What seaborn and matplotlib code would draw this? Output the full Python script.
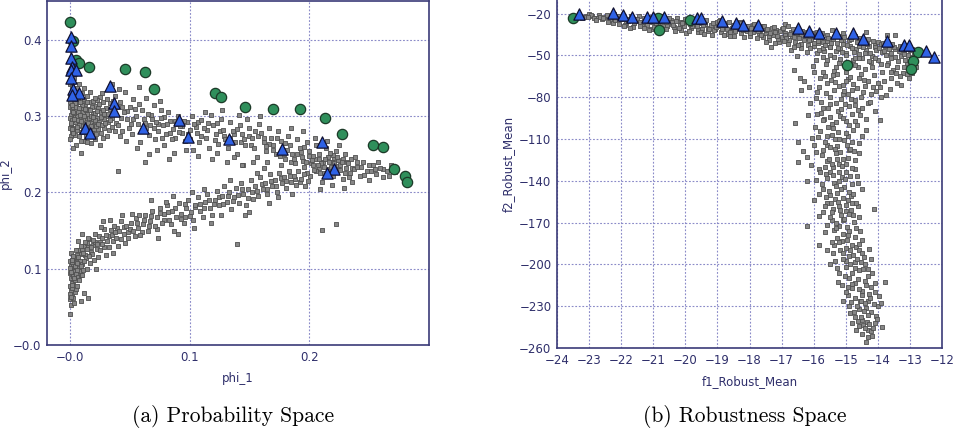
import matplotlib
matplotlib.use("Agg")
import matplotlib.pyplot as plt
import seaborn as sns
import pandas as pd
from matplotlib.ticker import MultipleLocator, FixedLocator, FixedFormatter

# ---------------- Panel (a): Probability Space ----------------
phi_green_1 = [0.000, 0.003, 0.005, 0.008, 0.016, 0.046, 0.063, 0.070, 0.121, 0.126,
               0.146, 0.170, 0.192, 0.213, 0.227, 0.253, 0.262, 0.271, 0.280, 0.282]
phi_green_2 = [0.424, 0.398, 0.374, 0.370, 0.364, 0.362, 0.358, 0.335, 0.330, 0.325,
               0.312, 0.309, 0.309, 0.297, 0.276, 0.262, 0.259, 0.231, 0.222, 0.214]

phi_blue_1 = [0.001, 0.001, 0.001, 0.002, 0.001, 0.005, 0.001, 0.003, 0.008, 0.002,
              0.034, 0.037, 0.037, 0.013, 0.017, 0.061, 0.091, 0.099, 0.133, 0.177,
              0.211, 0.221, 0.215]
phi_blue_2 = [0.404, 0.392, 0.376, 0.365, 0.360, 0.361, 0.350, 0.336, 0.330, 0.328,
              0.340, 0.317, 0.307, 0.284, 0.278, 0.284, 0.295, 0.273, 0.270, 0.257,
              0.266, 0.231, 0.225]

phi_cloud = [
    (0.000,0.355),(0.001,0.348),(0.000,0.342),(0.002,0.338),(0.001,0.331),(0.000,0.326),
    (0.003,0.322),(0.001,0.317),(0.000,0.312),(0.002,0.308),(0.001,0.302),(0.000,0.297),
    (0.003,0.293),(0.001,0.288),(0.000,0.284),(0.002,0.279),(0.001,0.274),(0.000,0.270),
    (0.003,0.345),(0.004,0.333),(0.003,0.312),(0.004,0.300),(0.003,0.285),
    (0.006,0.335),(0.008,0.327),(0.010,0.331),(0.012,0.322),(0.007,0.318),(0.009,0.311),
    (0.011,0.305),(0.006,0.300),(0.008,0.294),(0.013,0.297),(0.015,0.310),(0.017,0.318),
    (0.014,0.326),(0.019,0.304),(0.021,0.313),(0.023,0.298),(0.018,0.292),(0.010,0.287),
    (0.006,0.282),(0.012,0.279),(0.016,0.285),(0.020,0.289),(0.024,0.283),(0.026,0.306),
    (0.028,0.318),(0.025,0.325),(0.030,0.300),(0.032,0.292),(0.029,0.285),(0.034,0.310),
    (0.022,0.276),(0.008,0.274),(0.027,0.330),(0.031,0.322),(0.035,0.298),(0.005,0.312),
    (0.007,0.306),(0.011,0.296),(0.013,0.316),(0.016,0.298),(0.019,0.296),(0.021,0.295),
    (0.004,0.292),(0.005,0.262),(0.012,0.268),(0.018,0.265),(0.003,0.258),(0.025,0.262),
    (0.009,0.252),(0.040,0.228),(0.063,0.240),
    (0.0015,0.352),(0.0025,0.327),(0.0005,0.3185),(0.0035,0.304),(0.0015,0.2955),(0.0025,0.281),
    (0.0045,0.317),(0.0065,0.3225),(0.0085,0.3015),(0.0105,0.3145),(0.0125,0.2895),(0.0145,0.3035),
    (0.0165,0.2765),(0.0185,0.3125),(0.0205,0.2835),(0.0225,0.3215),(0.0245,0.2925),(0.0265,0.2785),
    (0.0285,0.2965),(0.0305,0.3105),(0.0325,0.2815),(0.0075,0.2885),(0.0095,0.2795),(0.0135,0.3085),
    (0.0155,0.2915),(0.0175,0.3005),(0.0195,0.3195),(0.0215,0.3045),(0.0235,0.3105),(0.0115,0.3375),
    (0.0055,0.3285),(0.0165,0.3315),(0.0335,0.3175),(0.0365,0.3055),(0.0385,0.2915),(0.0395,0.3115),
    (0.0355,0.2855),(0.0275,0.2715),(0.0135,0.2735),(0.0045,0.2755),
    (0.0008,0.3235),(0.0018,0.3145),(0.0028,0.3055),(0.0038,0.2965),(0.0008,0.2915),(0.0018,0.2835),
    (0.0028,0.2775),(0.0058,0.2855),(0.0068,0.2945),(0.0078,0.3105),(0.0088,0.3185),(0.0098,0.2935),
    (0.0108,0.2815),(0.0118,0.3005),(0.0128,0.3095),(0.0138,0.2845),(0.0148,0.3185),(0.0158,0.2805),
    (0.0168,0.3085),(0.0178,0.2865),(0.0188,0.2785),(0.0198,0.2995),(0.0208,0.3235),(0.0218,0.2875),
    (0.0228,0.3065),(0.0238,0.2895),(0.0248,0.3165),(0.0258,0.2985),(0.0268,0.2885),(0.0278,0.3085),
    (0.0288,0.3025),(0.0298,0.2905),(0.0318,0.3025),(0.0338,0.2945),(0.0358,0.3205),(0.0378,0.2805),
    (0.0058,0.3375),(0.0078,0.3425),(0.0038,0.3495),(0.0098,0.2675),(0.0148,0.2655),(0.0208,0.2695),
    (0.0308,0.2735),(0.0418,0.2735),(0.0478,0.3065),(0.0528,0.2965),(0.0578,0.3155),(0.0628,0.2905),
    (0.0688,0.2965),(0.0738,0.2895),(0.0788,0.2985),(0.0838,0.2775),(0.0878,0.2935),(0.0938,0.2865),
    (0.0988,0.2765),(0.1068,0.2925),(0.1148,0.2825),(0.1228,0.2915),(0.1288,0.2735),(0.1368,0.2765),
    (0.1428,0.2655),(0.1498,0.2735),(0.1548,0.2805),(0.1618,0.2715),(0.1668,0.2635),(0.1728,0.2715),
    (0.1788,0.2505),(0.1848,0.2395),(0.1898,0.2505),(0.1948,0.2415),(0.1998,0.2475),(0.2018,0.2385),
    (0.2048,0.2445),(0.2078,0.2315),(0.2118,0.2405),(0.2158,0.2305),(0.2188,0.2405),(0.2208,0.2455),
    (0.2238,0.2345),(0.2278,0.2445),(0.2318,0.2405),(0.2358,0.2325),(0.2398,0.2405),(0.2458,0.2235),
    (0.2498,0.2355),(0.2548,0.2305),(0.2618,0.2305),(0.2668,0.2215),(0.2718,0.2265),
    (0.038,0.327),(0.042,0.318),(0.045,0.305),(0.048,0.296),(0.040,0.288),(0.044,0.280),
    (0.050,0.312),(0.053,0.322),(0.055,0.300),(0.057,0.290),(0.052,0.276),(0.060,0.308),
    (0.062,0.296),(0.064,0.285),(0.066,0.275),(0.059,0.266),(0.068,0.302),(0.070,0.315),
    (0.072,0.292),(0.074,0.281),(0.071,0.270),(0.076,0.298),(0.078,0.288),(0.080,0.276),
    (0.082,0.306),(0.084,0.294),(0.086,0.283),(0.079,0.262),(0.088,0.271),(0.090,0.300),
    (0.092,0.287),(0.094,0.278),(0.096,0.267),(0.098,0.292),(0.100,0.282),(0.047,0.268),
    (0.056,0.258),(0.073,0.255),(0.087,0.252),(0.064,0.324),(0.075,0.320),(0.046,0.332),
    (0.058,0.338),(0.035,0.342),(0.041,0.336),(0.066,0.250),(0.083,0.244),(0.097,0.255),
    (0.051,0.290),(0.043,0.298),(0.067,0.288),(0.077,0.272),(0.089,0.290),
    (0.0435,0.3125),(0.0495,0.2845),(0.0545,0.3095),(0.0615,0.2815),(0.0655,0.3035),(0.0705,0.2845),
    (0.0765,0.3085),(0.0815,0.2895),(0.0855,0.2695),(0.0915,0.2795),(0.0955,0.2935),(0.1005,0.2705),
    (0.1055,0.2855),(0.1095,0.2745),(0.1155,0.2905),(0.1215,0.2685),(0.1255,0.2805),(0.1335,0.2715),
    (0.1395,0.2835),(0.1455,0.2695),(0.1515,0.2625),(0.1575,0.2745),(0.1635,0.2605),(0.1695,0.2555),
    (0.1755,0.2475),(0.1815,0.2555),(0.1875,0.2445),(0.1935,0.2525),(0.1975,0.2405),(0.2035,0.2355),
    (0.2085,0.2445),(0.2125,0.2335),(0.2165,0.2395),(0.2215,0.2305),(0.2255,0.2365),(0.2295,0.2255),
    (0.2375,0.2305),(0.2435,0.2335),(0.2515,0.2285),(0.2575,0.2405),(0.2195,0.2485),(0.2145,0.2225),
    (0.2055,0.2285),(0.1955,0.2595),(0.1795,0.2645),
    (0.102,0.300),(0.104,0.290),(0.106,0.278),(0.108,0.266),(0.110,0.295),(0.112,0.284),
    (0.114,0.272),(0.116,0.258),(0.118,0.302),(0.120,0.288),(0.122,0.276),(0.124,0.264),
    (0.126,0.296),(0.128,0.282),(0.130,0.270),(0.132,0.258),(0.134,0.292),(0.136,0.280),
    (0.138,0.266),(0.140,0.250),(0.142,0.288),(0.144,0.276),(0.146,0.262),(0.148,0.296),
    (0.150,0.284),(0.152,0.272),(0.154,0.258),(0.156,0.246),(0.158,0.290),(0.160,0.278),
    (0.162,0.266),(0.164,0.254),(0.166,0.284),(0.168,0.272),(0.107,0.248),(0.119,0.244),
    (0.131,0.240),(0.145,0.236),(0.113,0.306),(0.127,0.308),(0.141,0.302),(0.159,0.300),
    (0.103,0.256),(0.123,0.252),(0.137,0.246),(0.153,0.240),(0.165,0.240),
    (0.170,0.262),(0.172,0.250),(0.174,0.280),(0.176,0.268),(0.178,0.256),(0.180,0.244),
    (0.182,0.274),(0.184,0.262),(0.186,0.250),(0.188,0.238),(0.190,0.270),(0.192,0.258),
    (0.194,0.246),(0.196,0.234),(0.198,0.266),(0.200,0.254),(0.202,0.242),(0.204,0.230),
    (0.206,0.262),(0.208,0.250),(0.210,0.238),(0.212,0.226),(0.214,0.258),(0.216,0.246),
    (0.218,0.234),(0.220,0.222),(0.222,0.254),(0.224,0.242),(0.226,0.230),(0.228,0.218),
    (0.230,0.250),(0.232,0.238),(0.234,0.226),(0.236,0.214),(0.238,0.246),(0.240,0.234),
    (0.242,0.222),(0.245,0.240),(0.248,0.228),(0.250,0.216),(0.253,0.236),(0.256,0.224),
    (0.259,0.232),(0.262,0.220),(0.265,0.228),(0.268,0.236),(0.205,0.272),(0.215,0.268),
    (0.195,0.280),(0.185,0.284),(0.225,0.262),(0.201,0.222),(0.211,0.214),(0.219,0.210),
    (0.229,0.206),(0.199,0.215),(0.209,0.205),(0.203,0.248),(0.207,0.236),(0.213,0.244),
    (0.217,0.252),(0.221,0.238),(0.223,0.246),(0.227,0.240),(0.231,0.232),(0.235,0.244),
    (0.209,0.226),(0.219,0.228),(0.233,0.220),(0.140,0.133),(0.211,0.151),(0.222,0.159),
    (0.000,0.040),(0.001,0.052),(0.000,0.060),(0.002,0.066),(0.001,0.072),(0.000,0.078),
    (0.003,0.083),(0.001,0.088),(0.000,0.094),(0.002,0.099),(0.001,0.104),(0.000,0.110),
    (0.003,0.114),(0.001,0.120),(0.004,0.070),(0.004,0.092),(0.003,0.106),(0.002,0.075),
    (0.003,0.062),
    (0.0005,0.0665),(0.0015,0.0815),(0.0025,0.0905),(0.0005,0.1015),(0.0035,0.0975),(0.0015,0.1085),
    (0.0045,0.0855),(0.0055,0.0935),(0.0065,0.0885),(0.0075,0.1005),(0.0045,0.1155),(0.0085,0.1105),
    (0.0025,0.1165),(0.0095,0.1195),(0.0105,0.1255),(0.0125,0.1175),(0.0055,0.0735),(0.0035,0.0555),
    (0.0105,0.1065),(0.0135,0.1145),(0.0155,0.1295),(0.0175,0.1225),(0.0195,0.1305),(0.0225,0.1255),
    (0.0255,0.1345),(0.0285,0.1285),(0.0325,0.1425),(0.0365,0.1365),(0.0425,0.1395),(0.0485,0.1485),
    (0.0545,0.1425),(0.0605,0.1475),(0.0665,0.1555),(0.0725,0.1515),(0.0785,0.1645),(0.0845,0.1585),
    (0.0925,0.1655),(0.1005,0.1695),(0.1085,0.1855),(0.1165,0.1905),(0.1245,0.1935),(0.1325,0.1955),
    (0.1405,0.1965),(0.1485,0.1925),(0.1565,0.2015),(0.1645,0.2045),(0.1725,0.2085),(0.1805,0.2155),
    (0.1885,0.2175),(0.1965,0.2085),
    (0.0012,0.0635),(0.0022,0.0785),(0.0032,0.0875),(0.0012,0.0955),(0.0042,0.1035),(0.0022,0.1115),
    (0.0052,0.1085),(0.0062,0.1175),(0.0072,0.1245),(0.0082,0.0965),(0.0092,0.0915),(0.0112,0.0985),
    (0.0122,0.1295),(0.0142,0.1335),(0.0162,0.1395),(0.0182,0.1195),(0.0212,0.1355),(0.0242,0.1425),
    (0.0272,0.1325),(0.0302,0.1445),(0.0342,0.1505),(0.0392,0.1535),(0.0452,0.1545),(0.0502,0.1515),
    (0.0562,0.1595),(0.0622,0.1635),(0.0682,0.1695),(0.0752,0.1735),(0.0822,0.1745),(0.0882,0.1795),
    (0.0962,0.1845),(0.1042,0.1805),(0.1122,0.1795),(0.1202,0.1845),(0.1282,0.1855),(0.1362,0.1885),
    (0.1442,0.2045),(0.1522,0.2005),(0.1602,0.2105),(0.1682,0.2155),(0.1762,0.2185),(0.1842,0.2215),
    (0.1922,0.2135),(0.1982,0.2255),
    (0.006,0.078),(0.008,0.085),(0.010,0.092),(0.006,0.098),(0.009,0.104),(0.012,0.110),
    (0.007,0.115),(0.011,0.120),(0.014,0.126),(0.009,0.130),(0.013,0.135),(0.016,0.117),
    (0.018,0.128),(0.015,0.140),(0.019,0.138),(0.005,0.125),(0.007,0.136),(0.010,0.145),
    (0.014,0.100),(0.017,0.108),(0.012,0.068),(0.015,0.062),(0.009,0.058),(0.020,0.112),
    (0.006,0.108),
    (0.021,0.146),(0.023,0.132),(0.025,0.124),(0.027,0.140),(0.029,0.152),(0.031,0.136),
    (0.033,0.128),(0.035,0.144),(0.037,0.156),(0.039,0.140),(0.041,0.150),(0.043,0.162),
    (0.045,0.146),(0.047,0.156),(0.049,0.140),(0.051,0.160),(0.053,0.150),(0.055,0.166),
    (0.057,0.154),(0.059,0.144),(0.024,0.116),(0.030,0.118),(0.022,0.100),(0.028,0.162),
    (0.034,0.164),(0.040,0.130),(0.046,0.134),(0.052,0.172),(0.058,0.170),(0.044,0.170),
    (0.036,0.120),(0.026,0.155),(0.038,0.148),
    (0.061,0.158),(0.063,0.170),(0.065,0.150),(0.067,0.162),(0.069,0.176),(0.071,0.156),
    (0.073,0.168),(0.075,0.180),(0.077,0.160),(0.079,0.172),(0.081,0.184),(0.083,0.164),
    (0.085,0.176),(0.087,0.150),(0.089,0.168),(0.091,0.186),(0.093,0.172),(0.095,0.160),
    (0.097,0.180),(0.099,0.190),(0.101,0.174),(0.103,0.164),(0.105,0.184),(0.107,0.194),
    (0.109,0.176),(0.111,0.168),(0.113,0.188),(0.115,0.198),(0.117,0.180),(0.119,0.170),
    (0.074,0.140),(0.068,0.190),(0.086,0.196),(0.102,0.200),(0.112,0.204),(0.090,0.146),
    (0.104,0.154),(0.118,0.160),(0.080,0.188),(0.096,0.168),
    (0.121,0.190),(0.123,0.202),(0.125,0.184),(0.127,0.196),(0.129,0.208),(0.131,0.188),
    (0.133,0.200),(0.135,0.178),(0.137,0.194),(0.139,0.206),(0.141,0.186),(0.143,0.212),
    (0.145,0.198),(0.147,0.184),(0.149,0.204),(0.151,0.216),(0.153,0.192),(0.155,0.208),
    (0.157,0.196),(0.159,0.220),(0.161,0.204),(0.163,0.212),(0.165,0.198),(0.167,0.224),
    (0.169,0.208),(0.171,0.216),(0.173,0.200),(0.175,0.226),(0.177,0.212),(0.179,0.220),
    (0.181,0.206),(0.183,0.228),(0.185,0.214),(0.187,0.222),(0.189,0.210),(0.191,0.228),
    (0.193,0.218),(0.126,0.170),(0.146,0.170),(0.166,0.186),(0.186,0.198),(0.134,0.216),
    (0.156,0.226),(0.176,0.236),(0.196,0.224),(0.174,0.194),(0.144,0.236),(0.162,0.232),
    (0.150,0.174),
]

# ---------------- Panel (b): Robustness Space ----------------
rob_green_1 = [-23.50, -20.82, -20.86, -19.85, -14.95, -12.74, -12.89, -12.97]
rob_green_2 = [-22.9, -31.7, -23.4, -24.5, -56.8, -47.8, -54.0, -59.7]

rob_blue_1 = [-23.30, -22.25, -21.93, -21.65, -21.20, -21.00, -20.66, -19.65, -19.52,
              -18.87, -18.42, -18.19, -17.74, -16.50, -16.15, -15.83, -15.31, -14.76,
              -14.47, -13.72, -13.20, -13.04, -12.50, -12.24]
rob_blue_2 = [-20.5, -19.8, -21.0, -22.2, -22.2, -22.2, -22.2, -23.4, -23.4,
              -25.2, -27.0, -28.1, -28.1, -30.0, -32.4, -34.1, -34.1, -34.1,
              -38.4, -39.6, -42.5, -42.5, -46.6, -51.4]

rob_cloud = [
    (-23.3,-21),(-23.1,-21.5),(-22.9,-22),(-22.7,-21),(-22.5,-22.5),(-22.3,-23),(-22.1,-22),
    (-22.0,-24),(-22.4,-21.5),(-22.8,-23),(-23.0,-20.5),(-22.6,-24),
    (-23.15,-22.1),(-22.95,-21.3),(-22.85,-23.4),(-22.65,-22.2),(-22.45,-20.9),(-22.35,-24.6),
    (-22.15,-23.3),(-21.95,-21.6),(-21.85,-26.4),(-21.75,-24.1),(-21.65,-22.8),(-21.55,-25.5),
    (-21.45,-21.9),(-21.35,-27.6),(-21.25,-24.7),(-21.15,-22.4),(-21.05,-26.2),(-20.95,-23.7),
    (-20.85,-28.3),(-20.75,-25.1),(-20.65,-22.9),(-20.55,-27.4),(-20.45,-24.6),(-20.35,-29.5),
    (-20.25,-23.4),(-20.15,-26.1),(-20.05,-28.8),(-20.12,-31.6),(-21.62,-29.7),(-22.25,-26.8),
    (-21.08,-30.9),
    (-23.22,-23.4),(-23.04,-22.6),(-22.78,-24.8),(-22.56,-23.1),(-22.42,-25.7),(-22.18,-24.9),
    (-22.06,-27.3),(-21.88,-27.8),(-21.72,-30.2),(-21.58,-23.6),(-21.42,-28.9),(-21.28,-25.8),
    (-21.12,-31.7),(-20.98,-29.4),(-20.88,-25.6),(-20.72,-31.3),(-20.58,-29.1),(-20.42,-26.2),
    (-20.32,-32.4),(-20.18,-28.3),(-20.08,-25.7),(-19.98,-33.6),(-19.82,-30.6),(-19.72,-27.4),
    (-19.62,-33.1),(-19.48,-30.9),(-19.38,-27.5),(-19.28,-32.6),(-19.18,-35.4),(-19.08,-31.2),
    (-18.98,-27.6),(-18.88,-33.4),(-18.78,-29.8),(-18.68,-34.7),(-18.58,-31.9),(-18.48,-35.8),
    (-18.38,-30.6),(-18.28,-34.2),(-18.18,-37.1),(-18.08,-32.3),(-17.98,-35.9),(-17.88,-33.1),
    (-17.78,-37.8),(-17.68,-31.4),(-17.58,-36.6),(-17.48,-34.2),(-17.38,-38.9),(-17.28,-35.6),
    (-17.18,-31.8),(-17.08,-40.2),(-16.98,-36.8),(-16.88,-33.6),(-16.78,-39.1),(-16.68,-35.9),
    (-16.58,-40.7),(-16.48,-34.4),(-16.38,-41.5),(-16.28,-37.4),(-16.18,-42.3),(-16.08,-38.6),
    (-15.98,-43.5),(-15.88,-41.2),(-15.78,-36.7),(-15.68,-46.8),(-15.58,-39.8),(-15.48,-43.6),
    (-15.38,-51.4),(-15.28,-41.1),(-15.18,-45.3),(-15.08,-38.8),(-14.98,-47.9),(-14.88,-43.1),
    (-14.78,-53.2),(-14.68,-45.6),(-14.58,-39.6),(-14.48,-51.6),(-14.38,-46.1),(-14.28,-43.5),
    (-14.18,-50.4),(-14.08,-42.2),(-13.98,-53.1),(-13.88,-47.3),(-13.78,-43.5),(-13.68,-55.6),
    (-13.58,-48.4),(-13.48,-45.1),(-13.38,-53.9),(-13.28,-50.6),(-13.18,-46.3),(-13.08,-56.2),
    (-12.98,-51.4),(-12.88,-48.2),(-12.82,-58.5),(-13.52,-60.4),(-13.22,-62.7),(-14.12,-63.8),
    (-14.62,-58.4),(-15.22,-55.7),(-15.72,-50.8),(-16.22,-47.6),(-16.72,-45.9),(-17.32,-43.6),
    (-13.02,-66.4),(-13.62,-74.1),(-14.32,-68.2),(-16.02,-57.3),(-16.52,-50.2),(-13.76,-78.6),
    (-14.06,-75.2),(-16.62,-60.5),(-16.42,-66.1),(-13.48,-35.4),(-14.38,-33.2),(-15.42,-31.6),
    (-16.88,-27.4),(-18.92,-24.2),(-20.78,-21.6),(-22.22,-20.6),
    (-21.9,-23),(-21.8,-25),(-21.7,-22),(-21.6,-27),(-21.5,-24),(-21.4,-26),(-21.3,-23),
    (-21.2,-28),(-21.1,-25),(-21.0,-22.5),(-20.9,-27),(-20.8,-24),(-20.7,-29),(-20.6,-26),
    (-20.5,-23),(-20.4,-28),(-20.3,-25),(-20.2,-30),(-20.1,-27),(-20.0,-24),(-21.9,-29),
    (-21.3,-30),(-20.6,-31),
    (-19.9,-26),(-19.8,-29),(-19.7,-24.5),(-19.6,-31),(-19.5,-27),(-19.4,-25),(-19.3,-30),
    (-19.2,-28),(-19.1,-32),(-19.0,-26),(-18.9,-29),(-18.8,-27),(-18.7,-31),(-18.6,-33),
    (-18.5,-28),(-18.4,-30),(-18.3,-26),(-18.2,-32),(-18.1,-29),(-18.0,-34),(-19.5,-33),
    (-18.8,-35),
    (-19.95,-25.2),(-19.85,-27.6),(-19.75,-23.5),(-19.65,-29.2),(-19.55,-25.8),(-19.45,-28.1),
    (-19.35,-24.6),(-19.25,-30.8),(-19.15,-26.7),(-19.05,-29.4),(-18.95,-25.3),(-18.85,-31.2),
    (-18.75,-27.9),(-18.65,-25.8),(-18.55,-30.1),(-18.45,-32.7),(-18.35,-28.2),(-18.25,-26.4),
    (-18.15,-31.1),(-18.05,-28.6),(-19.42,-34.8),(-18.62,-36.2),(-19.88,-32.5),
    (-17.9,-28),(-17.8,-31),(-17.7,-34),(-17.6,-29),(-17.5,-32),(-17.4,-36),(-17.3,-30),
    (-17.2,-33),(-17.1,-38),(-17.0,-31),(-16.9,-35),(-16.8,-29),(-16.7,-33),(-16.6,-37),
    (-16.5,-31),(-16.4,-35),(-16.3,-39),(-16.2,-33),(-16.1,-36),(-16.0,-41),(-17.5,-40),
    (-16.8,-42),(-16.4,-45),(-16.6,-44),
    (-17.95,-30.4),(-17.85,-27.2),(-17.75,-32.6),(-17.65,-35.1),(-17.55,-28.9),(-17.45,-31.3),
    (-17.35,-33.8),(-17.25,-29.6),(-17.15,-35.7),(-17.05,-32.2),(-16.95,-30.5),(-16.85,-37.4),
    (-16.75,-34.6),(-16.65,-31.2),(-16.55,-33.9),(-16.45,-37.8),(-16.35,-32.1),(-16.25,-35.4),
    (-16.15,-38.7),(-16.05,-34.2),(-17.22,-41.3),(-16.48,-42.6),(-16.92,-39.4),(-16.12,-44.8),
    (-15.9,-33),(-15.8,-37),(-15.7,-40),(-15.6,-35),(-15.5,-44),(-15.4,-38),(-15.3,-47),
    (-15.2,-36),(-15.1,-42),(-15.0,-50),(-14.9,-39),(-14.8,-45),(-14.7,-36),(-14.6,-52),
    (-14.5,-41),(-14.4,-48),(-14.3,-38),(-14.2,-55),(-14.1,-44),(-14.0,-40),(-15.9,-48),
    (-15.6,-53),(-15.3,-58),(-15.0,-62),(-14.7,-57),(-14.4,-60),(-14.1,-52),(-15.7,-45),
    (-15.1,-34),(-14.6,-43),
    (-15.95,-36.1),(-15.85,-39.4),(-15.75,-34.2),(-15.65,-42.3),(-15.55,-37.6),(-15.45,-40.9),
    (-15.35,-35.7),(-15.25,-44.6),(-15.15,-39.1),(-15.05,-36.8),(-14.95,-42.7),(-14.85,-38.2),
    (-14.75,-47.5),(-14.65,-40.3),(-14.55,-37.4),(-14.45,-44.1),(-14.35,-41.6),(-14.25,-48.3),
    (-14.15,-39.5),(-14.05,-46.2),(-15.82,-46.3),(-15.48,-49.7),(-15.18,-52.6),(-14.88,-55.4),
    (-14.58,-49.2),(-14.28,-53.8),(-15.62,-56.1),(-15.12,-47.6),(-14.72,-51.9),(-14.18,-58.6),
    (-15.92,-53.4),(-15.38,-61.2),(-14.52,-63.5),(-14.92,-66.7),
    (-13.9,-42),(-13.8,-47),(-13.7,-40),(-13.6,-52),(-13.5,-44),(-13.4,-58),(-13.3,-43),
    (-13.2,-49),(-13.1,-63),(-13.0,-46),(-12.9,-55),(-13.9,-56),(-13.6,-62),(-13.3,-65),
    (-13.8,-68),(-13.4,-70),(-13.7,-35),
    (-13.95,-44.3),(-13.85,-40.8),(-13.75,-49.6),(-13.65,-45.2),(-13.55,-41.7),(-13.45,-51.3),
    (-13.35,-47.1),(-13.25,-44.2),(-13.15,-53.6),(-13.05,-49.8),(-12.95,-45.4),(-12.85,-51.7),
    (-13.72,-56.8),(-13.42,-62.4),(-13.18,-58.3),(-13.88,-61.9),(-13.58,-66.3),(-13.92,-72.5),
    (-13.28,-71.2),(-12.92,-62.8),
    (-16.0,-62),(-15.8,-66),(-15.6,-70),(-15.4,-64),(-15.2,-72),(-15.0,-68),(-14.8,-75),
    (-14.6,-66),(-14.4,-72),(-14.2,-78),(-14.0,-70),(-15.9,-76),(-15.5,-80),(-15.3,-84),
    (-15.1,-78),(-14.9,-86),(-14.7,-82),(-14.5,-88),(-14.3,-84),(-13.9,-80),(-16.1,-84),
    (-15.7,-88),(-14.1,-90),(-16.4,-75),
    (-15.72,-61.8),(-15.46,-67.3),(-15.28,-63.5),(-15.08,-71.4),(-14.86,-65.2),(-14.64,-73.6),
    (-14.42,-67.9),(-15.84,-72.7),(-15.62,-77.1),(-15.38,-74.5),(-15.16,-81.3),(-14.94,-77.8),
    (-14.72,-85.4),(-14.52,-79.6),(-15.76,-83.2),(-15.54,-87.6),(-15.24,-90.1),(-15.02,-84.7),
    (-14.82,-92.3),(-14.62,-89.5),(-15.68,-95.8),(-15.42,-99.4),(-15.18,-93.6),(-14.98,-97.2),
    (-14.78,-103.5),(-15.96,-101.7),(-16.18,-92.4),(-14.36,-95.3),(-14.24,-83.1),(-16.3,-68.6),
    (-16.14,-72.4),(-15.94,-80.6),(-15.66,-64.8),(-15.34,-69.2),(-15.06,-75.6),(-14.76,-70.3),
    (-14.46,-76.1),(-14.16,-72.8),(-15.78,-91.3),(-15.48,-85.2),(-15.14,-88.4),(-14.84,-81.5),
    (-14.56,-92.8),(-14.38,-103.6),(-15.56,-101.2),(-15.24,-105.3),(-14.92,-107.8),(-14.66,-99.8),
    (-16.06,-108.9),(-15.92,-119.5),(-15.58,-114.6),(-15.34,-110.2),(-15.18,-119.6),(-14.96,-114.1),
    (-14.74,-118.3),(-15.66,-129.8),(-15.28,-124.3),(-14.98,-128.2),(-14.72,-131.4),(-15.92,-139.6),
    (-15.48,-133.7),(-15.12,-137.4),(-14.88,-136.2),(-14.62,-141.5),(-15.84,-149.8),(-15.62,-151.4),
    (-15.26,-148.5),(-15.04,-144.3),(-14.84,-151.2),(-14.62,-158.3),(-15.72,-162.6),(-15.46,-155.7),
    (-15.18,-161.3),(-14.98,-157.4),(-14.78,-164.8),(-15.66,-176.5),(-15.42,-168.4),(-15.22,-172.6),
    (-14.92,-179.1),(-14.68,-174.2),(-14.48,-182.5),(-15.38,-186.2),(-15.12,-183.5),(-14.88,-189.4),
    (-14.68,-187.8),(-14.42,-194.6),(-15.28,-202.3),(-14.98,-197.2),(-14.72,-202.6),(-14.52,-198.1),
    (-14.32,-203.4),(-15.12,-214.8),(-14.94,-216.2),(-14.72,-213.4),(-14.48,-219.2),(-14.28,-221.5),
    (-14.08,-213.7),(-14.86,-235.2),(-14.56,-226.3),(-14.36,-231.2),(-14.12,-228.7),(-14.62,-240.6),
    (-14.32,-246.8),(-14.18,-251.3),(-14.46,-243.2),(-13.86,-244.6),(-16.48,-126.4),(-16.58,-98.7),
    (-13.94,-96.5),(-14.12,-160.4),(-16.22,-172.5),(-15.84,-186.3),(-13.78,-212.3),
    (-15.9,-92),(-15.7,-96),(-15.5,-94),(-15.3,-98),(-15.1,-95),(-14.9,-100),(-14.7,-97),
    (-15.8,-104),(-15.6,-108),(-15.4,-102),(-15.2,-110),(-15.0,-106),(-14.8,-112),
    (-16.0,-114),(-15.7,-118),(-15.5,-116),(-15.3,-120),(-15.1,-124),(-14.9,-118),
    (-15.6,-126),(-15.4,-130),(-15.2,-128),(-14.7,-125),(-16.2,-123),(-16.5,-112),
    (-14.5,-108),(-14.6,-120),
    (-15.86,-108.5),(-15.64,-112.3),(-15.44,-106.8),(-15.26,-114.9),(-15.06,-110.6),(-14.86,-117.4),
    (-15.74,-121.8),(-15.52,-124.5),(-15.32,-117.3),(-15.12,-129.7),(-14.92,-123.6),(-15.82,-131.4),
    (-15.62,-135.2),(-15.42,-127.9),(-15.22,-133.6),(-15.02,-138.8),(-14.82,-131.1),(-16.08,-128.4),
    (-14.66,-136.4),(-15.36,-141.7),(-16.34,-118.6),(-14.58,-113.2),
    (-15.8,-134),(-15.6,-138),(-15.4,-136),(-15.2,-140),(-15.0,-134),(-14.8,-142),
    (-15.7,-146),(-15.5,-150),(-15.3,-144),(-15.1,-152),(-14.9,-148),(-15.6,-156),
    (-15.4,-160),(-15.2,-158),(-15.0,-162),(-14.8,-156),(-15.5,-166),(-15.3,-170),
    (-15.1,-168),(-14.9,-164),(-14.6,-166),(-16.0,-154),(-16.2,-140),(-14.5,-146),
    (-15.74,-142.6),(-15.52,-147.3),(-15.34,-152.8),(-15.14,-145.9),(-14.94,-153.7),(-14.76,-149.1),
    (-15.66,-158.4),(-15.44,-162.7),(-15.24,-155.3),(-15.04,-167.1),(-14.84,-160.6),(-15.58,-171.8),
    (-15.36,-175.4),(-15.16,-164.2),(-14.96,-172.9),(-14.74,-169.6),(-15.28,-180.7),(-14.56,-176.3),
    (-15.84,-165.5),(-14.68,-155.9),
    (-15.3,-174),(-15.1,-178),(-14.9,-176),(-14.7,-180),(-15.2,-184),(-15.0,-188),
    (-14.8,-186),(-14.6,-190),(-15.4,-192),(-15.1,-196),(-14.9,-194),(-14.7,-198),
    (-14.5,-192),(-15.0,-202),(-14.8,-206),(-14.6,-204),(-14.4,-200),(-15.2,-206),
    (-14.3,-208),(-15.6,-190),(-15.5,-200),(-14.2,-196),(-14.9,-210),
    (-15.18,-189.6),(-14.96,-182.4),(-14.78,-193.2),(-14.58,-185.7),(-15.32,-197.8),(-15.08,-192.1),
    (-14.86,-199.6),(-14.66,-196.4),(-14.46,-203.2),(-15.24,-212.5),(-15.02,-208.3),(-14.82,-217.1),
    (-14.62,-210.6),(-14.38,-214.8),(-14.18,-205.9),(-14.92,-221.7),(-14.52,-226.4),(-15.44,-183.6),
    (-14.28,-188.9),
    (-14.8,-214),(-14.6,-218),(-14.4,-212),(-14.2,-216),(-15.0,-220),(-14.7,-224),
    (-14.5,-222),(-14.3,-226),(-14.1,-220),(-14.9,-230),(-14.6,-232),(-14.4,-228),
    (-14.2,-234),(-14.0,-230),(-14.7,-238),(-14.5,-240),(-14.3,-236),(-14.1,-242),
    (-14.6,-244),(-14.4,-246),(-14.2,-248),(-14.3,-252),(-15.1,-226),(-13.9,-228),
    (-14.8,-242),
    (-14.84,-226.8),(-14.64,-229.5),(-14.44,-233.6),(-14.24,-224.1),(-14.06,-236.7),(-14.74,-234.3),
    (-14.54,-237.8),(-14.34,-241.2),(-14.16,-245.5),(-14.48,-249.6),(-14.26,-242.9),(-14.38,-255.8),
    (-14.02,-239.4),(-14.68,-247.3),(-13.96,-222.6),
]

x_ticks_a = [0.0, 0.1, 0.2]
x_labels_a = ["\u22120.0", "0.1", "0.2"]
y_ticks_a = [0.0, 0.1, 0.2, 0.3, 0.4]
y_labels_a = ["\u22120.0", "0.1", "0.2", "0.3", "0.4"]
x_ticks_b = [-24, -23, -22, -21, -20, -19, -18, -17, -16, -15, -14, -13, -12]
y_ticks_b = [-20, -50, -80, -110, -140, -170, -200, -230, -260]

# ---------------- styling ----------------
sns.set_style("white")
plt.rcParams["font.family"] = ["DejaVu Sans"]

NAVY = "#2f2f6b"
SPINE = "#3b3b78"
GRID = "#8a8ac8"
CLOUD_FACE = "#868686"
CLOUD_EDGE = "#505050"
GREEN = "#2f8f5b"
BLUE = "#2f62e6"

fig = plt.figure(figsize=(9.58, 4.41), dpi=100)
ax_a = fig.add_axes([47/958, 1 - 345/441, (429-47)/958, 344/441])
ax_b = fig.add_axes([557/958, 1 - 348/441, (942-557)/958, 348/441])

df_a = pd.DataFrame(phi_cloud, columns=["phi_1", "phi_2"])
df_b = pd.DataFrame(rob_cloud, columns=["f1_Robust_Mean", "f2_Robust_Mean"])

cloud_kw = dict(marker="s", s=10, color=CLOUD_FACE, edgecolor=CLOUD_EDGE, linewidth=0.6, zorder=2)
green_kw = dict(marker="o", s=55, color=GREEN, edgecolor="#1c3a28", linewidth=0.9, zorder=3)
blue_kw = dict(marker="^", s=66, color=BLUE, edgecolor="#101030", linewidth=0.9, zorder=4)

sns.scatterplot(data=df_a, x="phi_1", y="phi_2", ax=ax_a, **cloud_kw)
sns.scatterplot(x=phi_green_1, y=phi_green_2, ax=ax_a, **green_kw)
sns.scatterplot(x=phi_blue_1, y=phi_blue_2, ax=ax_a, **blue_kw)

sns.scatterplot(data=df_b, x="f1_Robust_Mean", y="f2_Robust_Mean", ax=ax_b, **cloud_kw)
sns.scatterplot(x=rob_green_1, y=rob_green_2, ax=ax_b, **green_kw)
sns.scatterplot(x=rob_blue_1, y=rob_blue_2, ax=ax_b, **blue_kw)

ax_a.set_xlim(-0.019, 0.300)
ax_a.set_ylim(0.0, 0.451)
ax_a.xaxis.set_major_locator(FixedLocator(x_ticks_a))
ax_a.xaxis.set_major_formatter(FixedFormatter(x_labels_a))
ax_a.yaxis.set_major_locator(FixedLocator(y_ticks_a))
ax_a.yaxis.set_major_formatter(FixedFormatter(y_labels_a))
ax_a.xaxis.set_minor_locator(MultipleLocator(0.05))
ax_a.yaxis.set_minor_locator(MultipleLocator(0.05))

ax_b.set_xlim(-24, -12)
ax_b.set_ylim(-260, -10.2)
ax_b.set_xticks(x_ticks_b)
ax_b.set_yticks(y_ticks_b)
ax_b.set_xticklabels([f"\u2212{abs(v)}" for v in x_ticks_b])
ax_b.set_yticklabels([f"\u2212{abs(v)}" for v in y_ticks_b])
ax_b.xaxis.set_minor_locator(MultipleLocator(0.5))
ax_b.yaxis.set_minor_locator(MultipleLocator(15))

for ax in (ax_a, ax_b):
    ax.grid(True, which="major", color=GRID, linestyle=(0, (1.6, 1.6)), linewidth=0.8, zorder=0)
    ax.set_axisbelow(True)
    for side, sp in ax.spines.items():
        sp.set_color(SPINE)
        sp.set_linewidth(1.2)
    ax.tick_params(which="both", direction="in", colors=SPINE, labelcolor=NAVY,
                   labelsize=8.5, width=1.0)
    ax.tick_params(which="major", length=0, pad=4)
    ax.tick_params(which="minor", length=4)
ax_b.spines["top"].set_visible(False)

ax_a.set_xlabel("phi_1", fontsize=8.5, color=NAVY)
ax_a.set_ylabel("phi_2", fontsize=8.5, color=NAVY)
ax_a.xaxis.set_label_coords(0.5, -0.078)
ax_a.yaxis.set_label_coords(-0.092, 0.5)

ax_b.set_xlabel("f1_Robust_Mean", fontsize=8.5, color=NAVY)
ax_b.set_ylabel("f2_Robust_Mean", fontsize=8.5, color=NAVY)
ax_b.xaxis.set_label_coords(0.5, -0.078)
ax_b.yaxis.set_label_coords(-0.109, 0.53)

fig.text(233/958, 1 - 416/441, "(a) Probability Space", family="cmr10", fontsize=15.5,
         ha="center", va="center", color="black")
fig.text(745/958, 1 - 416/441, "(b) Robustness Space", family="cmr10", fontsize=15.5,
         ha="center", va="center", color="black")

fig.savefig("out.png", dpi=100)
